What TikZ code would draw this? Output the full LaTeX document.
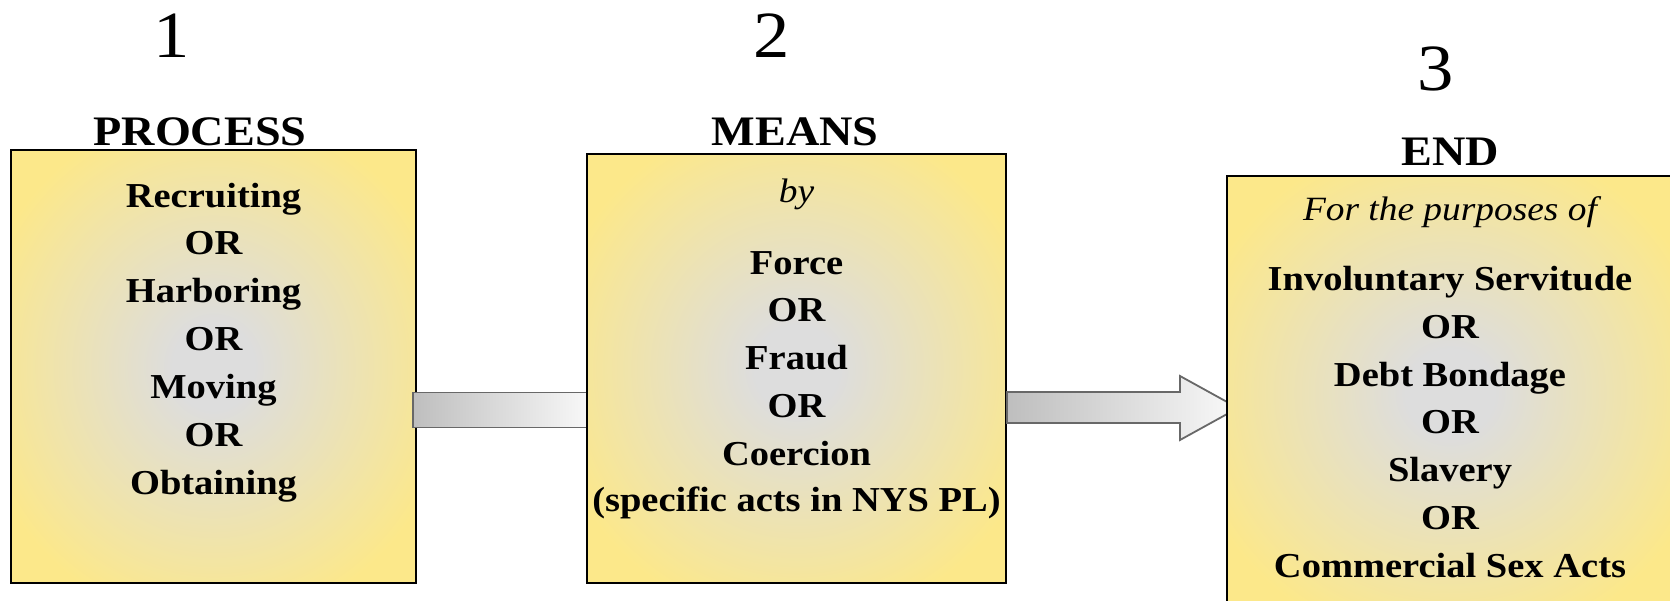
\documentclass[tikz,border=0pt]{standalone}
\usepackage{fontspec}
\setmainfont{Liberation Serif}[FakeStretch=1.1]
\usetikzlibrary{calc}
\definecolor{byel}{RGB}{252,232,138}
\definecolor{bgray}{RGB}{221,221,221}
\definecolor{barline}{RGB}{104,104,104}
\definecolor{barL}{RGB}{190,190,190}
\definecolor{barR}{RGB}{249,249,249}
\pgfdeclareradialshading{boxshade}{\pgfpoint{0bp}{0bp}}{color(0bp)=(bgray); color(5bp)=(bgray); color(30bp)=(byel); color(100bp)=(byel)}
\tikzset{
  box/.style={draw=black, line width=1pt, shading=boxshade, inner sep=0pt},
  bar/.style={draw=barline, line width=0.9pt, left color=barL, right color=barR},
  num/.style={font=\fontsize{33}{36}\selectfont, anchor=base, inner sep=0pt},
  head/.style={font=\bfseries\fontsize{21}{24}\selectfont, anchor=base, inner sep=0pt},
  body/.style={font=\bfseries\fontsize{17.5}{20}\selectfont, anchor=base, inner sep=0pt},
  ital/.style={font=\itshape\fontsize{17}{20}\selectfont, anchor=base, inner sep=0pt}
}
\begin{document}
\begin{tikzpicture}[x=0.5pt,y=-0.5pt]
\useasboundingbox (0,0) rectangle (1670,600);
\clip (0,0) rectangle (1670,600);
\fill[white] (0,0) rectangle (1670,600);

% box 1
\node[box, minimum width=202.5pt, minimum height=216.5pt] (b1) at (213.5,366.5) {};
% left edge of box 2 (box drawn after the bar)
\coordinate (b2w) at (587,366.5);
\draw[bar] ($(b1.east)+(-4,26)$) rectangle ($(b2w)+(4,61)$);
% box 2
\node[box, minimum width=209.5pt, minimum height=214.5pt] (b2) at (796.5,368.5) {};
% arrow from box 2 to box 3
\draw[bar] ($(b2.east)+(0,23.5)$) -- ($(b2.east)+(173,23.5)$) -- ($(b2.east)+(173,7.5)$)
  -- ($(b2.east)+(231,39.5)$) -- ($(b2.east)+(173,71.5)$) -- ($(b2.east)+(173,54.5)$)
  -- ($(b2.east)+(0,54.5)$) -- cycle;
% box 3
\node[box, minimum width=223pt, minimum height=216.5pt] (b3) at (1450,392.5) {};

% numbers and headings
\node[num] (n1) at (172,57) {1};
\node[num] (n2) at (772,57) {2};
\node[num] (n3) at (1436,90) {3};
\node[head] (h1) at (200,145) {PROCESS};
\node[head] (h2) at (795,145) {MEANS};
\node[head] (h3) at (1450,165) {END};

% box 1 text
\node[body] (p1) at (213.5,207) {Recruiting};
\node[body] (p2) at (213.5,254) {OR};
\node[body] (p3) at (213.5,302) {Harboring};
\node[body] (p4) at (213.5,350) {OR};
\node[body] (p5) at (213.5,398) {Moving};
\node[body] (p6) at (213.5,446) {OR};
\node[body] (p7) at (213.5,494) {Obtaining};

% box 2 text
\node[ital] (m0) at (796.5,202) {by};
\node[body] (m1) at (796.5,274) {Force};
\node[body] (m2) at (796.5,321) {OR};
\node[body] (m3) at (796.5,369) {Fraud};
\node[body] (m4) at (796.5,417) {OR};
\node[body] (m5) at (796.5,465) {Coercion};
\node[body] (m6) at (796.5,511) {(specific acts in NYS PL)};

% box 3 text
\node[ital] (e0) at (1450,220) {For the purposes of};
\node[body] (e1) at (1450,290) {Involuntary Servitude};
\node[body] (e2) at (1450,338) {OR};
\node[body] (e3) at (1450,386) {Debt Bondage};
\node[body] (e4) at (1450,433) {OR};
\node[body] (e5) at (1450,481) {Slavery};
\node[body] (e6) at (1450,529) {OR};
\node[body] (e7) at (1450,577) {Commercial Sex Acts};
\end{tikzpicture}
\end{document}
